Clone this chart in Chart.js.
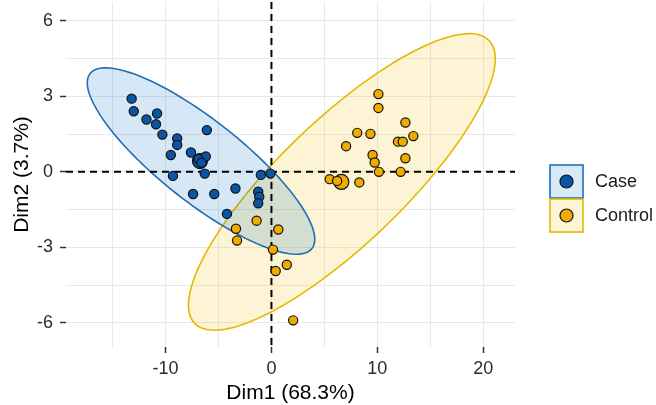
<!DOCTYPE html>
<html>
<head>
<meta charset="utf-8">
<script src="https://cdn.jsdelivr.net/npm/chart.js@4"></script>
<style>
  body { margin: 0; background: #fff; }
  #wrap { width: 656px; height: 405px; }
</style>
</head>
<body>
<div id="wrap"><canvas id="myChart"></canvas></div>
<script>
// individuals
const caseX = [-13.2, -13.0, -11.8, -10.8, -10.9, -10.3, -8.9, -8.9, -6.1, -7.6, -9.5, -6.2, -6.9, -6.6,
  -6.3, -9.3, -1.0, -0.1, -7.4, -5.4, -3.4, -1.25, -1.15, -1.25, -4.2];
const caseY = [2.91, 2.41, 2.08, 2.32, 1.89, 1.48, 1.33, 1.07, 1.66, 0.77, 0.67, 0.61, 0.51, 0.36,
  -0.07, -0.16, -0.12, -0.07, -0.88, -0.88, -0.66, -0.79, -0.99, -1.25, -1.67];
const controlX = [-1.4, -3.35, -3.25, 0.65, 0.15, 1.45, 0.4, 2.05, 10.1, 10.1, 12.65, 8.1, 9.35, 13.4,
  11.95, 12.4, 7.05, 9.55, 9.75, 12.65, 10.15, 12.2, 5.5, 8.3, 6.2];
const controlY = [-1.94, -2.26, -2.73, -2.29, -3.09, -3.69, -3.94, -5.9, 3.09, 2.54, 1.96, 1.55, 1.51, 1.42,
  1.2, 1.2, 1.02, 0.67, 0.37, 0.54, 0.0, 0.0, -0.29, -0.42, -0.36];

// group means (big points)
const caseMean = [-6.75, 0.43];
const controlMean = [6.6, -0.4];

// confidence ellipses: centre x, centre y, then two semi-axis vectors
const caseEllipse = [-6.65, 0.43, 10.47, -3.48, -2.4, -1.27];
const controlEllipse = [6.65, -0.4, 13.9, 5.62, 4.08, -1.77];

const groupLabels = ["Case", "Control"];
const xTitle = "Dim1 (68.3%)";
const yTitle = "Dim2 (3.7%)";

const blue = "#1f6fb5";
const yellow = "#E6B800";
const bluePoint = "#0a55a5";
const yellowPoint = "#efab00";

const toPoints = function (xs, ys) {
  return xs.map((x, i) => ({ x: x, y: ys[i] }));
};

const ellipsePlugin = {
  id: "ellipses",
  beforeDatasetsDraw(chart) {
    const ctx = chart.ctx;
    const xs = chart.scales.x;
    const ys = chart.scales.y;
    const area = chart.chartArea;
    const drawEllipse = function (e, stroke, fill) {
      ctx.beginPath();
      for (let i = 0; i <= 120; i++) {
        const t = (i / 120) * Math.PI * 2;
        const px = xs.getPixelForValue(e[0] + e[2] * Math.cos(t) + e[4] * Math.sin(t));
        const py = ys.getPixelForValue(e[1] + e[3] * Math.cos(t) + e[5] * Math.sin(t));
        if (i === 0) ctx.moveTo(px, py);
        else ctx.lineTo(px, py);
      }
      ctx.closePath();
      ctx.fillStyle = fill;
      ctx.fill();
      ctx.strokeStyle = stroke;
      ctx.lineWidth = 1.6;
      ctx.stroke();
    };
    ctx.save();
    ctx.beginPath();
    ctx.rect(area.left, area.top, area.right - area.left, area.bottom - area.top);
    ctx.clip();
    drawEllipse(controlEllipse, yellow, "rgba(239,192,0,0.17)");
    drawEllipse(caseEllipse, blue, "rgba(0,115,194,0.16)");

    // reference lines at 0
    ctx.setLineDash([7, 5]);
    ctx.strokeStyle = "#000";
    ctx.lineWidth = 2;
    ctx.beginPath();
    const x0 = xs.getPixelForValue(0);
    const y0 = ys.getPixelForValue(0);
    ctx.moveTo(x0, area.top);
    ctx.lineTo(x0, area.bottom);
    ctx.moveTo(area.left, y0);
    ctx.lineTo(area.right, y0);
    ctx.stroke();
    ctx.restore();
  },
  afterDraw(chart) {
    // ggplot style legend keys
    const ctx = chart.ctx;
    const keys = [
      { y: 165, stroke: blue, fill: "#d9eaf6", point: bluePoint },
      { y: 199, stroke: yellow, fill: "#fdf5d8", point: yellowPoint },
    ];
    ctx.save();
    keys.forEach((k, i) => {
      ctx.fillStyle = k.fill;
      ctx.fillRect(550, k.y, 33, 33);
      ctx.strokeStyle = k.stroke;
      ctx.lineWidth = 1.6;
      ctx.strokeRect(550, k.y, 33, 33);
      ctx.beginPath();
      ctx.arc(566.5, k.y + 16.5, 6.5, 0, Math.PI * 2);
      ctx.fillStyle = k.point;
      ctx.fill();
      ctx.strokeStyle = "#111";
      ctx.lineWidth = 1.2;
      ctx.stroke();
      ctx.fillStyle = "#1a1a1a";
      ctx.font = "18px 'Liberation Sans', Arial, sans-serif";
      ctx.textBaseline = "middle";
      ctx.textAlign = "left";
      ctx.fillText(groupLabels[i], 595, k.y + 17);
    });
    ctx.restore();
  },
};

const isMajor = function (v, step) {
  return Math.abs(Math.round(v / step) * step - v) < 1e-9;
};

const tickFont = { family: "'Liberation Sans', Arial, sans-serif", size: 18 };
const titleFont = { family: "'Liberation Sans', Arial, sans-serif", size: 21 };

new Chart(document.getElementById("myChart"), {
  type: "scatter",
  data: {
    datasets: [
      {
        label: groupLabels[0],
        data: toPoints(caseX, caseY),
        backgroundColor: bluePoint,
        borderColor: "#111",
        borderWidth: 1.2,
        pointRadius: 4.6,
      },
      {
        label: groupLabels[1],
        data: toPoints(controlX, controlY),
        backgroundColor: yellowPoint,
        borderColor: "#111",
        borderWidth: 1.2,
        pointRadius: 4.6,
      },
      {
        label: "Case mean",
        data: [{ x: caseMean[0], y: caseMean[1] }],
        backgroundColor: bluePoint,
        borderColor: "#111",
        borderWidth: 1.2,
        pointRadius: 7.5,
      },
      {
        label: "Control mean",
        data: [{ x: controlMean[0], y: controlMean[1] }],
        backgroundColor: yellowPoint,
        borderColor: "#111",
        borderWidth: 1.2,
        pointRadius: 7.5,
      },
    ],
  },
  options: {
    responsive: true,
    maintainAspectRatio: false,
    animation: false,
    layout: { autoPadding: false, padding: { left: 0, right: 141, top: 2, bottom: 0 } },
    plugins: {
      legend: { display: false },
      tooltip: { enabled: false },
    },
    scales: {
      x: {
        type: "linear",
        min: -19.4,
        max: 23,
        afterFit: (scale) => {
          scale.height = 58;
          scale.paddingLeft = 0;
          scale.paddingRight = 0;
        },
        border: { display: false },
        grid: {
          color: "#e8e8e8",
          lineWidth: 1,
          tickLength: 6,
          tickWidth: 1.5,
          tickColor: (c) => (c.tick && isMajor(c.tick.value, 10) ? "#333" : "rgba(0,0,0,0)"),
        },
        ticks: {
          stepSize: 5,
          includeBounds: false,
          autoSkip: false,
          maxRotation: 0,
          padding: 5,
          color: "#2b2b2b",
          font: tickFont,
          callback: (v) => (isMajor(v, 10) ? v : ""),
        },
        title: {
          display: true,
          text: xTitle,
          color: "#000",
          font: titleFont,
          padding: { top: 0, bottom: -1 },
        },
      },
      y: {
        type: "linear",
        min: -6.96,
        max: 6.75,
        afterFit: (scale) => {
          scale.width = 66;
          scale.paddingTop = 0;
          scale.paddingBottom = 0;
        },
        border: { display: false },
        grid: {
          color: "#e8e8e8",
          lineWidth: 1,
          tickLength: 6,
          tickWidth: 1.5,
          tickColor: (c) => (c.tick && isMajor(c.tick.value, 3) ? "#333" : "rgba(0,0,0,0)"),
        },
        ticks: {
          stepSize: 1.5,
          includeBounds: false,
          autoSkip: false,
          padding: 7,
          color: "#2b2b2b",
          font: tickFont,
          callback: (v) => (isMajor(v, 3) ? v : ""),
        },
        title: {
          display: true,
          text: yTitle,
          color: "#000",
          font: titleFont,
          padding: { top: 10, bottom: 0 },
        },
      },
    },
  },
  plugins: [ellipsePlugin],
});
</script>
</body>
</html>
